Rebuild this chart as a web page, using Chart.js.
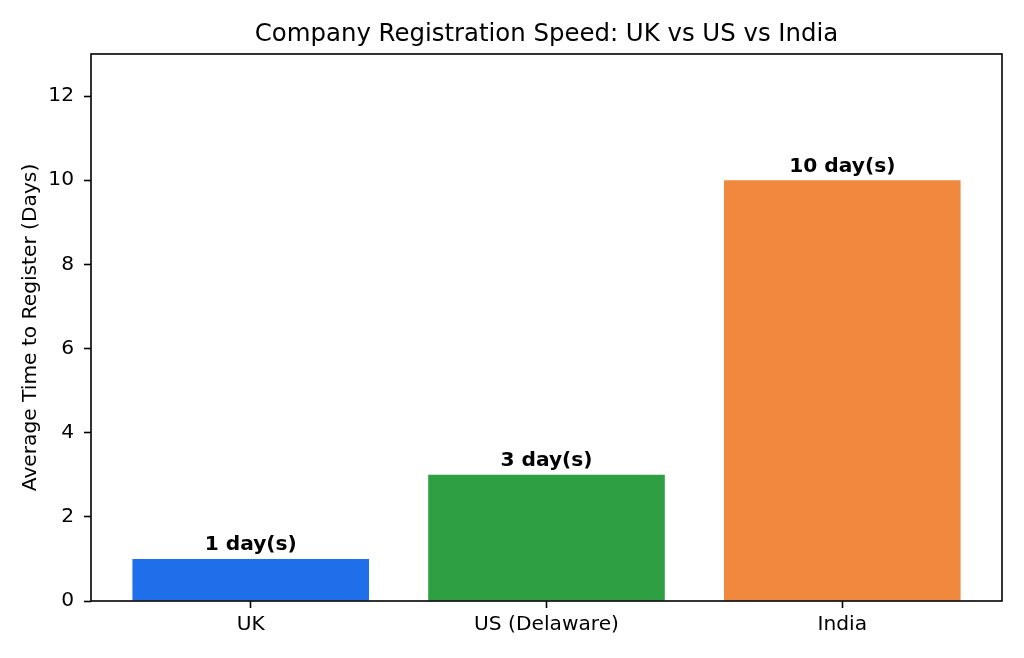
<!DOCTYPE html>
<html>
<head>
<meta charset="utf-8">
<script src="https://cdn.jsdelivr.net/npm/chart.js@4/dist/chart.umd.min.js"></script>
<style>
  html, body { margin: 0; padding: 0; background: #ffffff; }
  #wrap { width: 1024px; height: 658px; }
</style>
</head>
<body>
<div id="wrap"><canvas id="c" width="1024" height="658"></canvas></div>
<script>
const categories = ["UK", "US (Delaware)", "India"];
const days = [1, 3, 10];
const barColors = ["#1f6feb", "#2ea043", "#f0883e"];
const yTicks = [0, 2, 4, 6, 8, 10, 12];
const yMax = 13;
const valueLabels = days.map(d => d + " day(s)");

const FONT = "'DejaVu Sans', sans-serif";
const FS = 20.2;

const framePlugin = {
  id: 'frame',
  afterDatasetsDraw(chart) {
    const { ctx, chartArea: a } = chart;
    ctx.save();
    ctx.strokeStyle = '#000';
    ctx.lineWidth = 1.6;
    ctx.strokeRect(a.left, a.top, a.right - a.left, a.bottom - a.top);
    ctx.restore();
  }
};

const valueLabelPlugin = {
  id: 'valueLabels',
  afterDatasetsDraw(chart) {
    const { ctx } = chart;
    const meta = chart.getDatasetMeta(0);
    ctx.save();
    ctx.font = "bold " + FS + "px " + FONT;
    ctx.fillStyle = '#000';
    ctx.textAlign = 'center';
    ctx.textBaseline = 'alphabetic';
    meta.data.forEach((bar, i) => {
      ctx.fillText(valueLabels[i], bar.x, bar.y - 8.5);
    });
    ctx.restore();
  }
};

new Chart(document.getElementById('c'), {
  type: 'bar',
  data: {
    datasets: [{
      data: categories.map((c, i) => ({ x: i, y: days[i] })),
      backgroundColor: barColors,
      borderWidth: 0,
      barPercentage: 1.0,
      categoryPercentage: 0.8
    }]
  },
  options: {
    responsive: false,
    animation: false,
    devicePixelRatio: 1,
    layout: { padding: { left: 0, right: 22, top: 0, bottom: 0 } },
    plugins: {
      legend: { display: false },
      tooltip: { enabled: false },
      title: {
        display: true,
        fullSize: false,
        text: "Company Registration Speed: UK vs US vs India",
        color: '#000',
        font: { family: FONT, size: 24.4, weight: 'normal' },
        padding: { top: 20.4, bottom: 4.3 }
      }
    },
    scales: {
      x: {
        type: 'linear',
        min: -0.54,
        max: 2.54,
        offset: false,
        afterBuildTicks(scale) {
          scale.ticks = categories.map((c, i) => ({ value: i }));
        },
        afterFit(scale) { scale.height = 57; },
        ticks: {
          color: '#000',
          font: { family: FONT, size: FS },
          padding: 5.0,
          maxRotation: 0,
          autoSkip: false,
          callback: (v) => categories[v]
        },
        grid: {
          offset: false,
          drawOnChartArea: false,
          drawTicks: true,
          tickLength: 7,
          tickWidth: 1.6,
          tickColor: '#000'
        },
        border: { display: false }
      },
      y: {
        type: 'linear',
        min: 0,
        max: yMax,
        afterBuildTicks(scale) {
          scale.ticks = yTicks.map(v => ({ value: v }));
        },
        afterFit(scale) { scale.width = 91; },
        ticks: {
          color: '#000',
          font: { family: FONT, size: FS },
          padding: 10
        },
        grid: {
          drawOnChartArea: false,
          drawTicks: true,
          tickLength: 7,
          tickWidth: 1.6,
          tickColor: '#000'
        },
        border: { display: false },
        title: {
          display: true,
          text: "Average Time to Register (Days)",
          color: '#000',
          font: { family: FONT, size: FS, weight: 'normal' },
          padding: { top: 18.5, bottom: 0 }
        }
      }
    }
  },
  plugins: [framePlugin, valueLabelPlugin]
});
</script>
</body>
</html>
